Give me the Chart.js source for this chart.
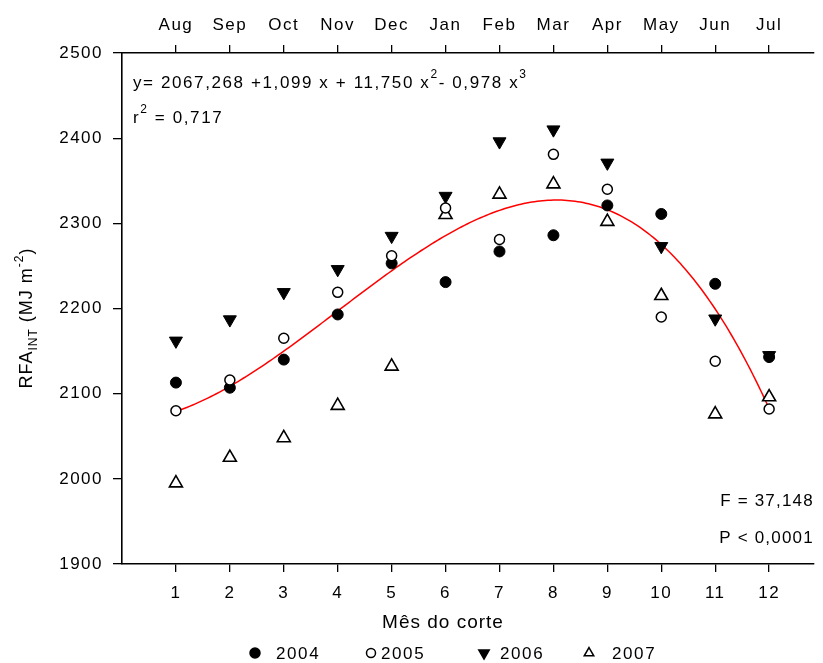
<!DOCTYPE html>
<html>
<head>
<meta charset="utf-8">
<script src="https://cdn.jsdelivr.net/npm/chart.js@4.4.1/dist/chart.umd.min.js"></script>
<style>
  html, body { margin: 0; padding: 0; background: #fff; }
  #wrap { width: 823px; height: 663px; }
</style>
</head>
<body>
<div id="wrap"><canvas id="c" width="823" height="663"></canvas></div>
<script>
// Cutting month (1 = August ... 12 = July)
const cutMonth = [1, 2, 3, 4, 5, 6, 7, 8, 9, 10, 11, 12];
const monthNames = ['Aug', 'Sep', 'Oct', 'Nov', 'Dec', 'Jan', 'Feb', 'Mar', 'Apr', 'May', 'Jun', 'Jul'];
const yTickValues = [1900, 2000, 2100, 2200, 2300, 2400, 2500];

// Intercepted PAR (MJ m-2) per cutting month and year
const rfa2004 = [2113, 2107, 2140, 2193, 2253, 2231, 2267, 2286, 2321, 2311, 2229, 2143];
const rfa2005 = [2080, 2116, 2165, 2219, 2262, 2318, 2281, 2381, 2340, 2190, 2138, 2082];
const rfa2006 = [2162, 2187, 2219, 2246, 2285, 2332, 2396, 2410, 2371, 2273, 2188, 2145];
const rfa2007 = [1995, 2025, 2048, 2086, 2132, 2310, 2334, 2346, 2302, 2215, 2076, 2096];

// Cubic regression y = b0 + b1 x + b2 x^2 + b3 x^3
const fitCoef = [2067.268, 1.099, 11.750, -0.978];
const fitX = [];
for (let i = 0; i <= 220; i++) fitX.push(1 + i * 0.05);
const fitY = fitX.map(x => fitCoef[0] + fitCoef[1] * x + fitCoef[2] * x * x + fitCoef[3] * x * x * x);

const FONT = "'Liberation Sans', Arial, sans-serif";
const toPts = (xs, ys) => xs.map((x, i) => ({ x: x, y: ys[i] }));

// Draws a run of text pieces, each with its own size and vertical shift
function drawRich(ctx, segs, x, y, align) {
  ctx.textBaseline = 'alphabetic';
  ctx.textAlign = 'left';
  let total = 0;
  segs.forEach(s => { ctx.font = s.size + 'px ' + FONT; s.w = ctx.measureText(s.t).width; total += s.w; });
  let cx = align === 'right' ? x - total : align === 'center' ? x - total / 2 : x;
  segs.forEach(s => {
    ctx.font = s.size + 'px ' + FONT;
    ctx.fillText(s.t, cx, y + (s.dy || 0));
    cx += s.w;
  });
}

function marker(ctx, style, x, y, r, filled) {
  ctx.beginPath();
  if (style === 'circle') {
    ctx.arc(x, y, r, 0, Math.PI * 2);
  } else {
    const dir = style === 'down' ? -1 : 1;
    const h = r * 1.5, w = r * 1.732;
    ctx.moveTo(x, y - dir * r);
    ctx.lineTo(x + w / 2, y + dir * (h - r));
    ctx.lineTo(x - w / 2, y + dir * (h - r));
    ctx.closePath();
  }
  ctx.fillStyle = filled ? '#000' : '#fff';
  ctx.fill();
  ctx.lineWidth = 1.5;
  ctx.strokeStyle = '#000';
  ctx.stroke();
}

const textSpacing = {
  id: 'textSpacing',
  beforeDraw(chart) { chart.ctx.letterSpacing = '1.5px'; }
};

const annotations = {
  id: 'annotations',
  afterDraw(chart) {
    const ctx = chart.ctx;
    const a = chart.chartArea;
    ctx.save();
    ctx.fillStyle = '#000';
    ctx.letterSpacing = '1.6px';

    // regression equation and r2
    drawRich(ctx, [
      { t: 'y= 2067,268 +1,099 x + 11,750 x', size: 17 },
      { t: '2', size: 12, dy: -10 },
      { t: '- 0,978 x', size: 17 },
      { t: '3', size: 12, dy: -10 }
    ], a.left + 11, a.top + 35);
    drawRich(ctx, [
      { t: 'r', size: 17 },
      { t: '2', size: 12, dy: -10 },
      { t: ' = 0,717', size: 17 }
    ], a.left + 11, a.top + 70);

    // F and P
    ctx.letterSpacing = '1.2px';
    drawRich(ctx, [{ t: 'F = 37,148', size: 17 }], a.right, 506, 'right');
    drawRich(ctx, [{ t: 'P < 0,0001', size: 17 }], a.right, 543, 'right');

    // x axis title
    ctx.letterSpacing = '1px';
    drawRich(ctx, [{ t: 'Mês do corte', size: 19 }], 443, 628, 'center');

    // y axis title
    ctx.save();
    ctx.translate(32, 318);
    ctx.rotate(-Math.PI / 2);
    drawRich(ctx, [
      { t: 'RFA', size: 18 },
      { t: 'INT', size: 12, dy: 5 },
      { t: ' (MJ m', size: 18 },
      { t: '-2', size: 12, dy: -9 },
      { t: ')', size: 18 }
    ], 0, 0, 'center');
    ctx.restore();

    // legend
    ctx.letterSpacing = '1.6px';
    const items = [
      { m: 'circle', f: true, mx: 255, tx: 276, label: '2004', r: 5 },
      { m: 'circle', f: false, mx: 371, tx: 381, label: '2005', r: 4.5 },
      { m: 'down', f: true, mx: 484, tx: 500, label: '2006', r: 6 },
      { m: 'up', f: false, mx: 589, tx: 612, label: '2007', r: 5.5 }
    ];
    items.forEach(it => {
      marker(ctx, it.m, it.mx, 653, it.r, it.f);
      ctx.fillStyle = '#000';
      drawRich(ctx, [{ t: it.label, size: 17 }], it.tx, 659);
    });
    ctx.restore();
  }
};

const tickCommon = {
  afterBuildTicks(scale) { scale.ticks = cutMonth.map(v => ({ value: v })); }
};

new Chart(document.getElementById('c'), {
  type: 'scatter',
  data: {
    datasets: [
      { label: '2005', data: toPts(cutMonth, rfa2005), pointStyle: 'circle', pointRadius: 5,
        backgroundColor: '#fff', borderColor: '#000', borderWidth: 1.5 },
      { label: '2006', data: toPts(cutMonth, rfa2006), pointStyle: 'triangle', rotation: 180, pointRadius: 7.5,
        backgroundColor: '#000', borderColor: '#000', borderWidth: 1 },
      { label: '2004', data: toPts(cutMonth, rfa2004), pointStyle: 'circle', pointRadius: 5.5,
        backgroundColor: '#000', borderColor: '#000', borderWidth: 1 },
      { label: '2007', data: toPts(cutMonth, rfa2007), pointStyle: 'triangle', pointRadius: 7.5,
        backgroundColor: '#fff', borderColor: '#000', borderWidth: 1.6 },
      { label: 'fit', type: 'line', data: toPts(fitX, fitY), showLine: true, pointRadius: 0,
        borderColor: '#ff0000', borderWidth: 1.5, fill: false, tension: 0 }
    ]
  },
  options: {
    responsive: false,
    animation: false,
    devicePixelRatio: 1,
    layout: { padding: 0 },
    plugins: { legend: { display: false }, tooltip: { enabled: false } },
    scales: {
      x: {
        type: 'linear', position: 'bottom', min: 0, max: 12.83,
        afterBuildTicks: tickCommon.afterBuildTicks,
        afterFit(s) { s.height = 99; },
        grid: { drawOnChartArea: false, tickLength: 8, color: '#000', lineWidth: 1.3 },
        border: { color: '#000', width: 1.6 },
        ticks: { color: '#000', font: { family: FONT, size: 17 }, padding: 11, maxRotation: 0,
                 callback: v => String(v) }
      },
      x2: {
        type: 'linear', position: 'top', min: 0, max: 12.83,
        afterBuildTicks: tickCommon.afterBuildTicks,
        afterFit(s) { s.height = 53; },
        grid: { drawOnChartArea: false, tickLength: 8, color: '#000', lineWidth: 1.3 },
        border: { color: '#000', width: 1.6 },
        ticks: { color: '#000', font: { family: FONT, size: 17 }, padding: 9, maxRotation: 0,
                 callback: v => monthNames[v - 1] }
      },
      y: {
        min: 1900, max: 2500,
        afterBuildTicks(scale) { scale.ticks = yTickValues.map(v => ({ value: v })); },
        afterFit(s) { s.width = 122; },
        grid: { drawOnChartArea: false, tickLength: 9, color: '#000', lineWidth: 1.3 },
        border: { color: '#000', width: 1.6 },
        ticks: { color: '#000', font: { family: FONT, size: 17 }, padding: 10,
                 callback: v => String(v) }
      }
    }
  },
  plugins: [textSpacing, annotations]
});
</script>
</body>
</html>
